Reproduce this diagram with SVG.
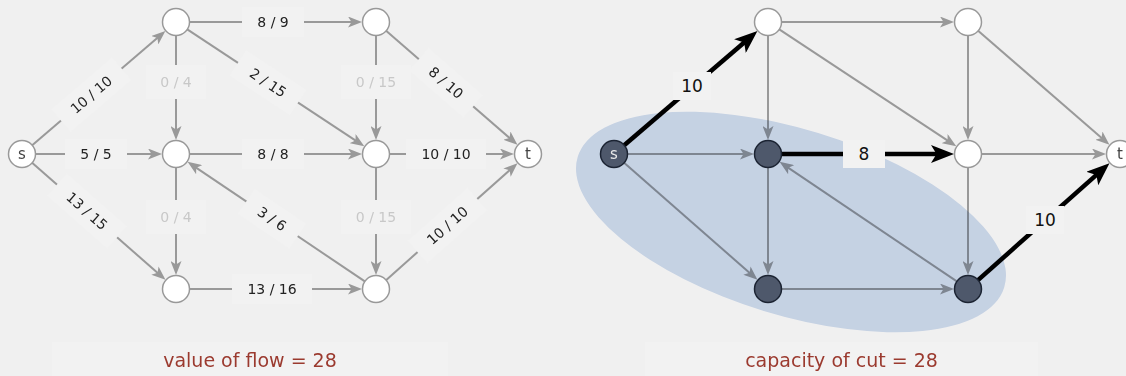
<svg xmlns="http://www.w3.org/2000/svg" width="1126" height="376" viewBox="0 0 1126 376">
<defs>
<marker id="ag" markerUnits="userSpaceOnUse" markerWidth="14" markerHeight="11" refX="6" refY="5.5" orient="auto"><path d="M0,0 L14,5.5 L0,11 L3.5,5.5 Z" fill="#999"/></marker>
<marker id="ab" markerUnits="userSpaceOnUse" markerWidth="23" markerHeight="18" refX="9" refY="9" orient="auto"><path d="M0,0 L23,9 L0,18 L5.5,9 Z" fill="#000"/></marker>
</defs>
<style>
.e{stroke:#999;stroke-width:2;fill:none;marker-end:url(#ag)}
.c{stroke:#000;stroke-width:4.5;fill:none;marker-end:url(#ab)}
.n{fill:#fff;stroke:#999;stroke-width:1.5}
.k{fill:#4e586b;stroke:#1c2433;stroke-width:1.5}
.bx{fill:#f2f2f2}
.lb{font-family:"DejaVu Sans",sans-serif;font-size:14px;fill:#222;text-anchor:middle}
.fa{fill:#c8c8c8}
.nl{font-family:"DejaVu Sans",sans-serif;font-size:15px;fill:#444;text-anchor:middle}
.cl{font-family:"DejaVu Sans",sans-serif;font-size:17px;fill:#111;text-anchor:middle}
.cap{font-family:"DejaVu Sans",sans-serif;font-size:19px;fill:#9b3a2f;text-anchor:middle}
</style>
<rect width="1126" height="376" fill="#f0f0f0"/>
<rect x="52" y="342" width="396" height="34" fill="#f2f2f2"/>
<rect x="645" y="342" width="393" height="34" fill="#f2f2f2"/>

<g id="connectors-flow">
<line class="e" x1="31.9" y1="145.5" x2="159.3" y2="36.3"/>
<line class="e" x1="35" y1="154" x2="154" y2="154"/>
<line class="e" x1="31.8" y1="162.6" x2="159.45" y2="274.5"/>
<line class="e" x1="189" y1="22" x2="354" y2="22"/>
<line class="e" x1="176" y1="35" x2="176" y2="132"/>
<line class="e" x1="186.9" y1="29.2" x2="357.6" y2="141.9"/>
<line class="e" x1="376" y1="35" x2="376" y2="132"/>
<line class="e" x1="385.8" y1="30.5" x2="511.4" y2="139.6"/>
<line class="e" x1="189" y1="154" x2="354" y2="154"/>
<line class="e" x1="365.2" y1="281.7" x2="194.2" y2="166.3"/>
<line class="e" x1="389" y1="154" x2="506" y2="154"/>
<line class="e" x1="176" y1="167" x2="176" y2="267"/>
<line class="e" x1="376" y1="167" x2="376" y2="267"/>
<line class="e" x1="189" y1="289" x2="354" y2="289"/>
<line class="e" x1="385.7" y1="280.4" x2="511.5" y2="168.6"/>
</g>
<g id="flow-labels">
<g transform="translate(91.3,94.6) rotate(-40.6)"><rect class="bx" x="-40" y="-15" width="80" height="30"/><text class="lb" y="5">10 / 10</text></g>
<g transform="translate(96,154)"><rect class="bx" x="-31" y="-15" width="62" height="30"/><text class="lb" y="5">5 / 5</text></g>
<g transform="translate(87,211) rotate(41.2)"><rect class="bx" x="-40" y="-15" width="80" height="30"/><text class="lb" y="5">13 / 15</text></g>
<g transform="translate(273,22)"><rect class="bx" x="-31" y="-15" width="62" height="30"/><text class="lb" y="5">8 / 9</text></g>
<g transform="translate(176,82)"><rect class="bx" x="-30" y="-17" width="60" height="34"/><text class="lb fa" y="5">0 / 4</text></g>
<g transform="translate(268,82.7) rotate(33.4)"><rect class="bx" x="-36" y="-15" width="72" height="30"/><text class="lb" y="5">2 / 15</text></g>
<g transform="translate(376,82)"><rect class="bx" x="-35" y="-17" width="70" height="34"/><text class="lb fa" y="5">0 / 15</text></g>
<g transform="translate(446,82.7) rotate(41)"><rect class="bx" x="-36" y="-15" width="72" height="30"/><text class="lb" y="5">8 / 10</text></g>
<g transform="translate(273,154)"><rect class="bx" x="-31" y="-15" width="62" height="30"/><text class="lb" y="5">8 / 8</text></g>
<g transform="translate(272,218.8) rotate(34)"><rect class="bx" x="-31" y="-15" width="62" height="30"/><text class="lb" y="5">3 / 6</text></g>
<g transform="translate(446,154)"><rect class="bx" x="-40" y="-15" width="80" height="30"/><text class="lb" y="5">10 / 10</text></g>
<g transform="translate(176,217)"><rect class="bx" x="-30" y="-17" width="60" height="34"/><text class="lb fa" y="5">0 / 4</text></g>
<g transform="translate(376,217)"><rect class="bx" x="-35" y="-17" width="70" height="34"/><text class="lb fa" y="5">0 / 15</text></g>
<g transform="translate(272,289)"><rect class="bx" x="-40" y="-15" width="80" height="30"/><text class="lb" y="5">13 / 16</text></g>
<g transform="translate(447.4,225.5) rotate(-41.6)"><rect class="bx" x="-40" y="-15" width="80" height="30"/><text class="lb" y="5">10 / 10</text></g>
</g>
<g id="flow-s"><circle class="n" cx="22" cy="154" r="13.5"/><text class="nl" x="22" y="159">s</text></g>
<g id="flow-a"><circle class="n" cx="176" cy="22" r="13.5"/></g>
<g id="flow-b"><circle class="n" cx="376" cy="22" r="13.5"/></g>
<g id="flow-c"><circle class="n" cx="176" cy="154" r="13.5"/></g>
<g id="flow-d"><circle class="n" cx="376" cy="154" r="13.5"/></g>
<g id="flow-e"><circle class="n" cx="176" cy="289" r="13.5"/></g>
<g id="flow-f"><circle class="n" cx="376" cy="289" r="13.5"/></g>
<g id="flow-t"><circle class="n" cx="528" cy="154" r="13.5"/><text class="nl" x="528" y="159">t</text></g>

<g id="connectors-cut">
<line class="e" x1="627" y1="154" x2="746" y2="154"/>
<line class="e" x1="623.8" y1="162.6" x2="751.45" y2="274.5"/>
<line class="e" x1="781" y1="22" x2="946" y2="22"/>
<line class="e" x1="768" y1="35" x2="768" y2="132"/>
<line class="e" x1="778.9" y1="29.2" x2="949.6" y2="141.9"/>
<line class="e" x1="968" y1="35" x2="968" y2="132"/>
<line class="e" x1="977.8" y1="30.5" x2="1103.4" y2="139.6"/>
<line class="e" x1="957.2" y1="281.7" x2="786.2" y2="166.3"/>
<line class="e" x1="981" y1="154" x2="1098" y2="154"/>
<line class="e" x1="768" y1="167" x2="768" y2="267"/>
<line class="e" x1="968" y1="167" x2="968" y2="267"/>
<line class="e" x1="781" y1="289" x2="946" y2="289"/>
<line class="c" x1="623.9" y1="145.5" x2="746.8" y2="40.2"/>
<line class="c" x1="781" y1="154" x2="940" y2="154"/>
<line class="c" x1="977.7" y1="280.4" x2="1099" y2="172.6"/>
</g>
<ellipse id="cut" cx="791" cy="222" rx="223" ry="93" transform="rotate(17 791 222)" fill="#d2dff2" style="mix-blend-mode:multiply"/>
<g id="cut-labels">
<g transform="translate(692,86)"><rect class="bx" x="-19" y="-14" width="38" height="28"/><text class="cl" y="6">10</text></g>
<g transform="translate(864,154)"><rect class="bx" x="-21" y="-14" width="42" height="28"/><text class="cl" y="6">8</text></g>
<g transform="translate(1045,220)"><rect class="bx" x="-19" y="-14" width="38" height="28"/><text class="cl" y="6">10</text></g>
</g>
<g id="cut-s"><circle class="k" cx="614" cy="154" r="13.5"/><text class="nl" x="614" y="159" style="fill:#e8e8e8">s</text></g>
<g id="cut-a"><circle class="n" cx="768" cy="22" r="13.5"/></g>
<g id="cut-b"><circle class="n" cx="968" cy="22" r="13.5"/></g>
<g id="cut-c"><circle class="k" cx="768" cy="154" r="13.5"/></g>
<g id="cut-d"><circle class="n" cx="968" cy="154" r="13.5"/></g>
<g id="cut-e"><circle class="k" cx="768" cy="289" r="13.5"/></g>
<g id="cut-f"><circle class="k" cx="968" cy="289" r="13.5"/></g>
<g id="cut-t"><circle class="n" cx="1120" cy="154" r="13.5"/><text class="nl" x="1120" y="159">t</text></g>

<text class="cap" x="250" y="367">value of flow = 28</text>
<text class="cap" x="841.5" y="367">capacity of cut = 28</text>
</svg>
